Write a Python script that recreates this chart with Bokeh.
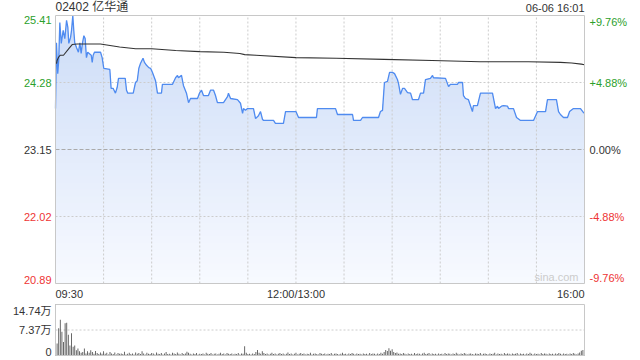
import numpy as np
from bokeh.plotting import figure
from bokeh.models import Range1d, Label
from bokeh.embed import file_html
from bokeh.resources import INLINE

# ---------------- data ----------------
stock_title = "02402 亿华通"
stamp = "06-06 16:01"
prev_close = 23.15
price_ticks = [20.89, 22.02, 23.15, 24.28, 25.41]
time_ticks = [0, 150, 330]
time_labels = ["09:30", "12:00/13:00", "16:00"]
grid_minutes = [30, 60, 90, 120, 150, 180, 210, 240, 270, 300]
vol_ticks = [0, 7.37, 14.74]

price_minutes = [
    0, 0.6, 1.4, 2.0, 2.7, 3.6, 4.8, 5.8, 6.9, 7.7,
    8.3, 9.4, 10.0, 10.8, 11.4, 12.0, 13.1, 14.3, 15.2, 16.0,
    16.8, 17.7, 18.5, 19.3, 20.1, 22.3, 22.9, 23.5, 24.3, 28.1,
    29.1, 30.1, 33.9, 34.7, 36.0, 37.4, 38.5, 39.3, 43.5, 44.3,
    45.1, 48.5, 49.9, 51.0, 52.0, 53.0, 54.6, 55.5, 56.8, 58.2,
    59.3, 60.5, 62.4, 63.6, 66.1, 66.7, 73.0, 74.9, 76.1, 76.7,
    78.6, 79.8, 81.7, 83.0, 84.2, 88.6, 89.8, 91.1, 92.3, 95.4,
    96.7, 98.6, 99.8, 101.0, 104.8, 107.3, 107.9, 109.2, 113.5, 115.4,
    116.7, 117.3, 118.5, 119.8, 123.5, 124.8, 126.6, 127.9, 129.1, 129.8,
    136.0, 137.2, 142.2, 143.5, 150.0, 151.6, 162.8, 163.4, 174.7, 175.9,
    185.3, 185.9, 190.3, 191.5, 201.5, 202.7, 204.0, 205.2, 207.1, 208.4,
    210.2, 211.5, 213.3, 214.0, 215.2, 216.5, 217.7, 219.6, 221.5, 222.7,
    226.4, 227.7, 229.6, 230.8, 233.9, 235.2, 235.8, 243.3, 245.2, 246.4,
    250.8, 251.4, 253.9, 254.5, 255.8, 257.6, 260.1, 260.7, 263.2, 265.1,
    272.6, 274.5, 275.7, 276.4, 278.2, 279.5, 282.0, 282.6, 285.7, 287.6,
    290.1, 298.2, 300.7, 305.7, 306.9, 312.5, 313.8, 315.0, 316.9, 319.4,
    320.7, 323.1, 327.5, 329.4, 330.0,
]
price_values = [
    23.84, 24.95, 24.43, 24.65, 25.29, 24.94, 25.16, 25.02, 25.33, 25.21,
    24.94, 25.04, 25.16, 25.41, 25.16, 24.95, 24.87, 24.79, 24.95, 24.77,
    24.94, 25.07, 25.02, 24.70, 24.79, 24.74, 24.62, 24.74, 24.79, 24.79,
    24.70, 24.52, 24.50, 24.18, 24.18, 24.10, 24.20, 24.35, 24.35, 24.15,
    24.10, 24.10, 24.28, 24.31, 24.52, 24.60, 24.69, 24.62, 24.57, 24.53,
    24.52, 24.45, 24.31, 24.10, 24.10, 24.25, 24.25, 24.36, 24.40, 24.36,
    24.40, 24.23, 24.10, 23.94, 24.01, 24.01, 24.10, 24.15, 24.06, 24.06,
    24.15, 24.15, 24.06, 23.94, 23.94, 24.04, 24.10, 24.01, 23.99, 23.93,
    23.76, 23.84, 23.81, 23.84, 23.84, 23.67, 23.72, 23.79, 23.66, 23.64,
    23.64, 23.59, 23.59, 23.79, 23.79, 23.69, 23.69, 23.84, 23.84, 23.74,
    23.74, 23.64, 23.64, 23.69, 23.69, 23.79, 23.81, 24.28, 24.30, 24.45,
    24.45, 24.43, 24.33, 24.26, 24.08, 24.18, 24.18, 24.11, 24.10, 23.99,
    23.99, 24.10, 24.10, 24.33, 24.35, 24.40, 24.36, 24.35, 24.21, 24.25,
    24.25, 24.28, 24.28, 24.06, 24.01, 23.99, 23.79, 23.89, 23.89, 24.10,
    24.10, 23.84, 23.88, 23.84, 23.88, 23.89, 23.88, 23.84, 23.84, 23.69,
    23.64, 23.64, 23.79, 23.79, 23.99, 23.99, 23.79, 23.74, 23.69, 23.69,
    23.79, 23.84, 23.84, 23.77, 23.77,
]

avg_minutes = [0.6, 1.0, 2.0, 3.0, 5.0, 8.3, 10.4, 13.5, 28.0, 40.0,
               50.0, 60.0, 75.0, 90.0, 105.0, 115.0, 118.0, 125.0, 150.0, 175.0,
               205.0, 235.0, 265.0, 295.0, 315.0, 322.0, 328.0, 330.0]
avg_values = [24.60, 24.65, 24.71, 24.74, 24.74, 24.85, 24.92, 24.93, 24.93, 24.88,
              24.85, 24.85, 24.82, 24.80, 24.79, 24.77, 24.75, 24.74, 24.70, 24.69,
              24.67, 24.65, 24.63, 24.63, 24.62, 24.61, 24.59, 24.58]

# volume per minute, in 万 (10k shares), minutes 0..330
volume_wan = [
    14.74, 3.5, 7.9, 10.3, 6.9, 3.9, 9.3, 9.5, 6.0, 2.9, 6.4, 2.5, 2.9, 1.5, 2.0, 1.2,
    0.8, 1.0, 2.0, 0.6, 1.2, 0.8, 1.5, 1.0, 0.5, 1.3, 0.7, 0.4, 0.9, 0.5, 1.2,
    0.5, 0.8, 0.3, 1.0, 0.6, 0.4, 0.9, 0.3, 0.7, 0.5, 0.6, 0.4, 1.1, 0.3, 0.5, 0.8, 0.4, 0.6, 0.3, 0.9,
    0.5, 0.7, 0.4, 1.2, 0.6, 0.3, 0.8, 0.5, 0.4, 0.7,
    0.6, 0.3, 0.9, 0.5, 0.4, 0.7, 0.3, 0.6, 1.0, 0.4, 0.5, 0.3, 0.8, 0.6, 0.4, 0.9, 0.5, 0.3, 0.7, 0.4,
    0.6, 1.1, 0.8, 0.5, 0.3, 0.6, 0.4, 0.7, 0.3, 0.5,
    0.4, 0.6, 0.3, 0.8, 0.5, 0.4, 0.7, 0.3, 0.5, 0.6, 0.3, 0.5, 0.8, 0.4, 0.6, 0.3, 0.7, 0.5, 0.4, 0.6,
    0.3, 0.5, 0.4, 0.7, 0.3, 0.6, 0.5, 2.7, 0.8, 0.4,
    0.5, 0.3, 0.6, 0.4, 1.0, 1.6, 0.8, 0.5, 1.2, 0.7, 0.4, 0.6, 0.3, 0.5, 0.8, 0.4, 0.6, 0.3, 0.5, 0.7,
    0.4, 0.6, 0.3, 0.5, 0.9, 0.4, 0.6, 0.3, 0.5, 0.8,
    0.3, 0.5, 0.7, 0.4, 0.6, 0.3, 0.5, 0.4, 0.8, 0.3, 0.5, 0.6, 0.4, 0.3, 0.7, 0.5, 0.4, 0.6, 0.3, 0.5,
    0.4, 0.7, 0.3, 0.5, 0.6, 0.4, 0.3, 0.5, 0.8, 0.4,
    0.5, 0.3, 0.6, 0.4, 0.7, 0.5, 0.3, 0.6, 0.4, 0.5, 0.3, 0.6, 0.4, 0.5, 0.3, 0.7, 0.4, 0.6, 0.5, 0.3,
    0.6, 0.4, 0.8, 0.5, 1.0, 1.6, 1.3, 2.1, 1.4, 1.8,
    1.0, 0.7, 0.9, 0.5, 0.6, 0.4, 0.7, 0.5, 0.3, 0.6, 0.4, 0.5, 0.3, 0.7, 0.4, 0.6, 0.5, 0.3, 0.6, 0.8,
    0.4, 0.5, 0.7, 0.3, 0.6, 0.4, 0.5, 0.3, 0.6, 0.4,
    0.5, 0.3, 0.7, 0.4, 0.6, 0.5, 0.3, 0.6, 0.4, 0.8, 0.5, 0.3, 0.6, 0.4, 0.7, 0.5, 0.3, 0.5, 0.6, 0.4,
    0.3, 0.6, 0.5, 0.4, 0.7, 0.3, 0.5, 0.6, 0.4, 0.3,
    0.6, 0.4, 0.5, 0.8, 0.3, 0.6, 0.4, 0.5, 0.3, 0.7, 0.4, 0.6, 0.5, 0.3, 0.6, 0.4, 0.5, 0.7, 0.3, 0.6,
    0.4, 0.5, 0.3, 0.6, 0.4, 0.8, 0.5, 0.3, 0.6, 0.4,
    0.5, 0.3, 0.7, 0.4, 0.6, 0.5, 0.3, 0.6, 0.4, 0.5, 0.3, 0.6, 0.4, 0.7, 0.5, 0.3, 0.6, 0.4, 0.5, 0.3,
    0.6, 0.4, 0.7, 0.5, 0.3, 0.6, 0.9, 1.4, 1.6, 0.8,
]
volume_minutes = list(range(len(volume_wan)))

# ---------------- layout / styles ----------------
W, H = 640, 360
PX_LEFT, PX_RIGHT = 55, 584          # plot box, canvas pixels
PX_PRICE_TOP, PX_PRICE_BOT = 15, 283
PX_VOL_TOP, PX_VOL_BOT = 304, 355

FONT = "Liberation Sans, Noto Sans CJK SC"
GREEN = "#2ba02b"
RED = "#ee3434"
DARK = "#333333"
LINE_BLUE = "#4f8bf0"
GRID = "#cccccc"
BOX = "#c8c8c8"
FILL_TOP = (0xcc, 0xdc, 0xf7)
FILL_BOTTOM = (0xf8, 0xfa, 0xff)

y_lo, y_hi = price_ticks[0], price_ticks[-1]
t_lo, t_hi = time_ticks[0], time_ticks[-1]
v_lo, v_hi = vol_ticks[0], vol_ticks[-1]

# ranges so that the whole canvas is the frame
xs = (t_hi - t_lo) / (PX_RIGHT - PX_LEFT)
ys = (y_hi - y_lo) / (PX_PRICE_BOT - PX_PRICE_TOP)
vs = (v_hi - v_lo) / (PX_VOL_BOT - PX_VOL_TOP)
x_range = Range1d(t_lo - PX_LEFT * xs, t_hi + (W - PX_RIGHT) * xs)
y_range = Range1d(y_lo - (H - PX_PRICE_BOT) * ys, y_hi + PX_PRICE_TOP * ys)
v_range = Range1d(v_lo - (H - PX_VOL_BOT) * vs, v_hi + PX_VOL_TOP * vs)

p = figure(width=W, height=H, x_range=x_range, y_range=y_range,
           x_axis_type=None, y_axis_type=None, toolbar_location=None, output_backend="svg",
           min_border=0, min_border_left=0, min_border_right=0, min_border_top=0, min_border_bottom=0)
p.extra_y_ranges = {"vol": v_range}
p.outline_line_color = None
p.background_fill_color = "white"
p.border_fill_color = "white"
p.grid.visible = False

t = np.array(price_minutes)
pr = np.array(price_values)

# gradient fill under the price line (stacked layers)
n_bands = 40
levels = np.linspace(y_lo, y_hi, n_bands + 1)
for k in range(n_bands, 0, -1):
    frac = (k - 0.5) / n_bands
    rgb = tuple(int(round(b + (a - b) * frac)) for a, b in zip(FILL_TOP, FILL_BOTTOM))
    col = "#%02x%02x%02x" % rgb
    p.varea(x=t, y1=np.full_like(pr, y_lo), y2=np.minimum(pr, levels[k]), fill_color=col)

# grid
p.segment(x0=grid_minutes, y0=[y_lo] * len(grid_minutes), x1=grid_minutes, y1=[y_hi] * len(grid_minutes),
          line_color=GRID, line_dash="2 2", line_width=1)
inner = [v for v in price_ticks[1:-1] if v != prev_close]
p.segment(x0=[t_lo] * len(inner), y0=inner, x1=[t_hi] * len(inner), y1=inner,
          line_color=GRID, line_dash="2 2", line_width=1)
p.segment(x0=[t_lo], y0=[prev_close], x1=[t_hi], y1=[prev_close],
          line_color="#aaaaaa", line_dash="4 2", line_width=1)

p.line(t, pr, line_color=LINE_BLUE, line_width=1.3)
p.line(avg_minutes, avg_values, line_color=DARK, line_width=1.1)

# price panel box
p.quad(left=[t_lo], right=[t_hi], bottom=[y_lo], top=[y_hi], fill_color=None, line_color=BOX, line_width=1)

# price / percent labels
for i, v in enumerate(price_ticks):
    if v > prev_close + 1e-9:
        col = GREEN
    elif v < prev_close - 1e-9:
        col = RED
    else:
        col = DARK
    base = "top" if i == len(price_ticks) - 1 else ("bottom" if i == 0 else "middle")
    pct = (v / prev_close - 1) * 100
    pct_txt = ("+" if pct > 0.005 else "") + f"{pct:.2f}%"
    p.add_layout(Label(x=PX_LEFT - 4, x_units="screen", y=v, text=f"{v:.2f}", text_align="right",
                       text_baseline=base, text_color=col, text_font_size="11px", text_font=FONT))
    p.add_layout(Label(x=PX_RIGHT + 5, x_units="screen", y=v, text=pct_txt, text_align="left",
                       text_baseline=base, text_color=col, text_font_size="11px", text_font=FONT))

p.add_layout(Label(x=PX_LEFT, x_units="screen", y=y_hi, y_offset=2, text=stock_title, text_align="left",
                   text_baseline="bottom", text_color=DARK, text_font_size="12px", text_font=FONT))
p.add_layout(Label(x=PX_RIGHT, x_units="screen", y=y_hi, y_offset=2, text=stamp, text_align="right",
                   text_baseline="bottom", text_color=DARK, text_font_size="11px", text_font=FONT))
aligns = ["left", "center", "right"]
for tv, tl, al in zip(time_ticks, time_labels, aligns):
    p.add_layout(Label(x=tv, y=y_lo, y_offset=-4, text=tl, text_align=al, text_baseline="top",
                       text_color=DARK, text_font_size="11px", text_font=FONT))
p.add_layout(Label(x=PX_RIGHT - 6, x_units="screen", y=y_lo, y_offset=1, text="sina.com", text_align="right",
                   text_baseline="bottom", text_color="#cccccc", text_font_size="11px", text_font=FONT))

# ---------------- volume panel ----------------
mid = vol_ticks[1]
p.segment(x0=[t_lo], y0=[mid], x1=[t_hi], y1=[mid], line_color=GRID, line_dash="2 2", line_width=1,
          y_range_name="vol")
p.vbar(x=volume_minutes, top=volume_wan, width=0.55, fill_color="#555555", line_color=None,
       y_range_name="vol")
p.quad(left=[t_lo], right=[t_hi], bottom=[v_lo], top=[v_hi], fill_color=None, line_color=BOX, line_width=1,
       y_range_name="vol")
for i, v in enumerate(vol_ticks):
    base = "top" if i == len(vol_ticks) - 1 else ("bottom" if i == 0 else "middle")
    txt = "0" if v == 0 else f"{v:.2f}万"
    p.add_layout(Label(x=PX_LEFT - 4, x_units="screen", y=v, y_range_name="vol", text=txt, text_align="right",
                       text_baseline=base, text_color=DARK, text_font_size="11px", text_font=FONT))

open("out.html", "w").write(file_html(p, INLINE))
